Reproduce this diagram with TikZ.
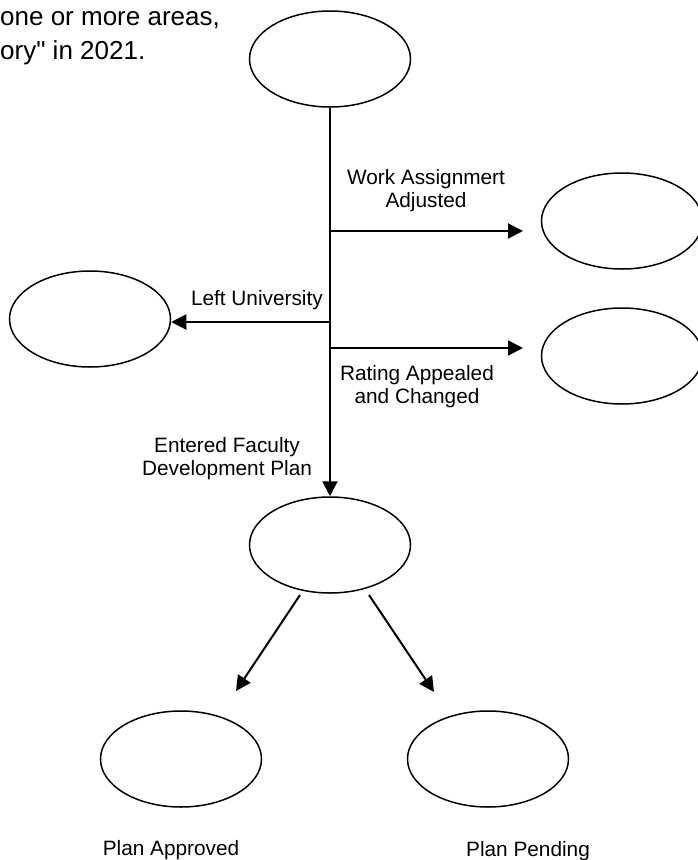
\documentclass[tikz,border=0pt]{standalone}
\usepackage{fontspec}
\setmainfont{Liberation Sans}[Ligatures=TeXOff]
\usetikzlibrary{shapes.geometric,arrows.meta}
\begin{document}
\begin{tikzpicture}[x=1pt,y=-1pt,
  state/.style={draw, ellipse, line width=1.5pt, minimum width=161pt, minimum height=96pt, inner sep=0pt},
  flow/.style={line width=2pt, -{Triangle[length=15pt,width=15pt]}},
  lbl/.style={font=\fontsize{20.8}{23}\selectfont, inner sep=0pt, align=center},
  note/.style={font=\fontsize{26}{26}\selectfont, inner sep=0pt, anchor=base west},
  ]
\useasboundingbox (0,0) rectangle (697,860);

% text at top left
\node[note] (note1) at (0,25) {one or more areas,};
\node[note] (note2) at (0,59) {ory" in 2021.};

% states
\node[state] (top) at (330,59) {};
\node[state] (mid) at (330,545) {};
\node[state] (lu) at (90,319) {};
\node[state] (wa) at (622,221) {};
\node[state] (ra) at (622,356) {};
\node[state] (pa) at (181,759) {};
\node[state] (pp) at (488,759) {};

% junctions and free ends
\coordinate (j1) at (330,231);
\coordinate (j2) at (331,322);
\coordinate (j3) at (330,348);
\coordinate (t1) at (523,231);
\coordinate (t3) at (523,348);
\coordinate (s1) at (300,595);
\coordinate (s2) at (369,595);
\coordinate (e1) at (236,691);
\coordinate (e2) at (434,692);

% connectors
\draw[flow] (top.south) -- (mid.north);
\draw[flow] (j1) -- (t1);
\draw[flow] (j2) -- (j2 -| lu.east);
\draw[flow] (j3) -- (t3);
\draw[flow] (s1) -- (e1);
\draw[flow] (s2) -- (e2);

% labels (base = baseline of last line)
\node[lbl, anchor=base] (lwa) at (426,207) {Work Assignmert\\Adjusted};
\node[lbl, anchor=base east] (llu) at (323,305) {Left University};
\node[lbl, anchor=base] (lra) at (417,403) {Rating Appealed\\and Changed};
\node[lbl, anchor=base] (lfd) at (227,475) {Entered Faculty\\Development Plan};
\node[lbl, anchor=base] (lpa) at (171,855) {Plan Approved};
\node[lbl, anchor=base] (lpp) at (528,856) {Plan Pending};
\end{tikzpicture}
\end{document}
